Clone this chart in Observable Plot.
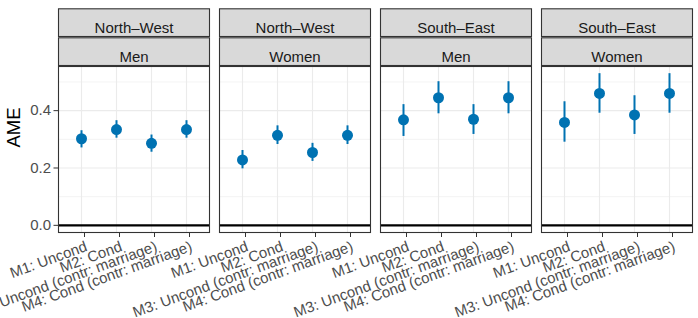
<!DOCTYPE html>
<html><head><meta charset="utf-8">
<script src="https://cdn.jsdelivr.net/npm/d3@7"></script>
<script src="https://cdn.jsdelivr.net/npm/@observablehq/plot@0.6"></script>
<style>html,body{margin:0;padding:0;background:#fff;overflow:hidden}</style>
</head><body><div id="chart"></div>
<script>
const panels = ["NW-Men", "NW-Women", "SE-Men", "SE-Women"];
const regions = ["North–West", "North–West", "South–East", "South–East"];
const genders = ["Men", "Women", "Men", "Women"];
const models = ["M1: Uncond", "M2: Cond", "M3: Uncond (contr: marriage)", "M4: Cond (contr: marriage)"];
const ame = [
  [0.302, 0.334, 0.286, 0.334],
  [0.228, 0.314, 0.254, 0.314],
  [0.368, 0.445, 0.370, 0.445],
  [0.359, 0.460, 0.385, 0.460]
];
const lower = [
  [0.270, 0.304, 0.255, 0.304],
  [0.197, 0.282, 0.223, 0.282],
  [0.310, 0.389, 0.317, 0.389],
  [0.290, 0.391, 0.317, 0.391]
];
const upper = [
  [0.330, 0.365, 0.315, 0.365],
  [0.261, 0.347, 0.286, 0.347],
  [0.421, 0.501, 0.421, 0.501],
  [0.431, 0.529, 0.452, 0.529]
];
const yTicks = [0, 0.2, 0.4];
const yMinor = [0.1, 0.3, 0.5];
const yTitle = "AME";

const rows = [];
panels.forEach((p, i) => models.forEach((m, j) => rows.push({panel: p, model: m, ame: ame[i][j], lo: lower[i][j], hi: upper[i][j]})));
const strips = panels.map((p, i) => ({panel: p, region: regions[i], gender: genders[i]}));

const chart = Plot.plot({
  width: 698, height: 318,
  marginLeft: 57, marginRight: 4, marginTop: 66, marginBottom: 86,
  style: {fontFamily: '"Liberation Sans", Arial, sans-serif', fontSize: "15px", background: "white", overflow: "visible"},
  fx: {domain: panels, paddingInner: 0.062, paddingOuter: 0, axis: null, label: null},
  x: {domain: models, type: "point", padding: 0.6},
  y: {domain: [-0.025, 0.554]},
  marks: [
    Plot.ruleY(yMinor, {stroke: "#EBEBEB", strokeWidth: 0.6}),
    Plot.ruleY(yTicks, {stroke: "#EBEBEB", strokeWidth: 1.1}),
    Plot.ruleX(models, {stroke: "#EBEBEB", strokeWidth: 1.1}),
    Plot.ruleY([0], {stroke: "black", strokeWidth: 2.2}),
    Plot.ruleX(rows, {fx: "panel", x: "model", y1: "lo", y2: "hi", stroke: "#0072B2", strokeWidth: 2}),
    Plot.dot(rows, {fx: "panel", x: "model", y: "ame", r: 5.5, fill: "#0072B2"}),
    Plot.frame({stroke: "#333333", strokeWidth: 1.1}),
    Plot.frame({fill: "#D9D9D9", stroke: "#333333", strokeWidth: 1.1, insetTop: -57.7, insetBottom: 196}),
    Plot.frame({fill: "#D9D9D9", stroke: "#333333", strokeWidth: 1.1, insetTop: -28.7, insetBottom: 167}),
    Plot.text(strips, {fx: "panel", text: "region", frameAnchor: "top", dy: -44, fill: "#1A1A1A"}),
    Plot.text(strips, {fx: "panel", text: "gender", frameAnchor: "top", dy: -15, fill: "#1A1A1A"}),
    Plot.text(strips.slice(0, 1), {fx: "panel", text: () => yTitle, frameAnchor: "left", dx: -44, dy: -2, rotate: -90, fontSize: 18.5, fill: "black"}),
    Plot.axisY(yTicks, {tickFormat: d3.format(".1f"), tickSize: 4.5, tickPadding: 3, stroke: "#333333", fill: "#4D4D4D", label: null}),
    Plot.axisX(models, {tickRotate: -20, tickSize: 4, tickPadding: 3, textAnchor: "end", lineAnchor: "top", dx: 3, dy: 1, stroke: "#333333", fill: "#4D4D4D", label: null})
  ]
});
document.getElementById("chart").appendChild(chart);
</script>
</body></html>
